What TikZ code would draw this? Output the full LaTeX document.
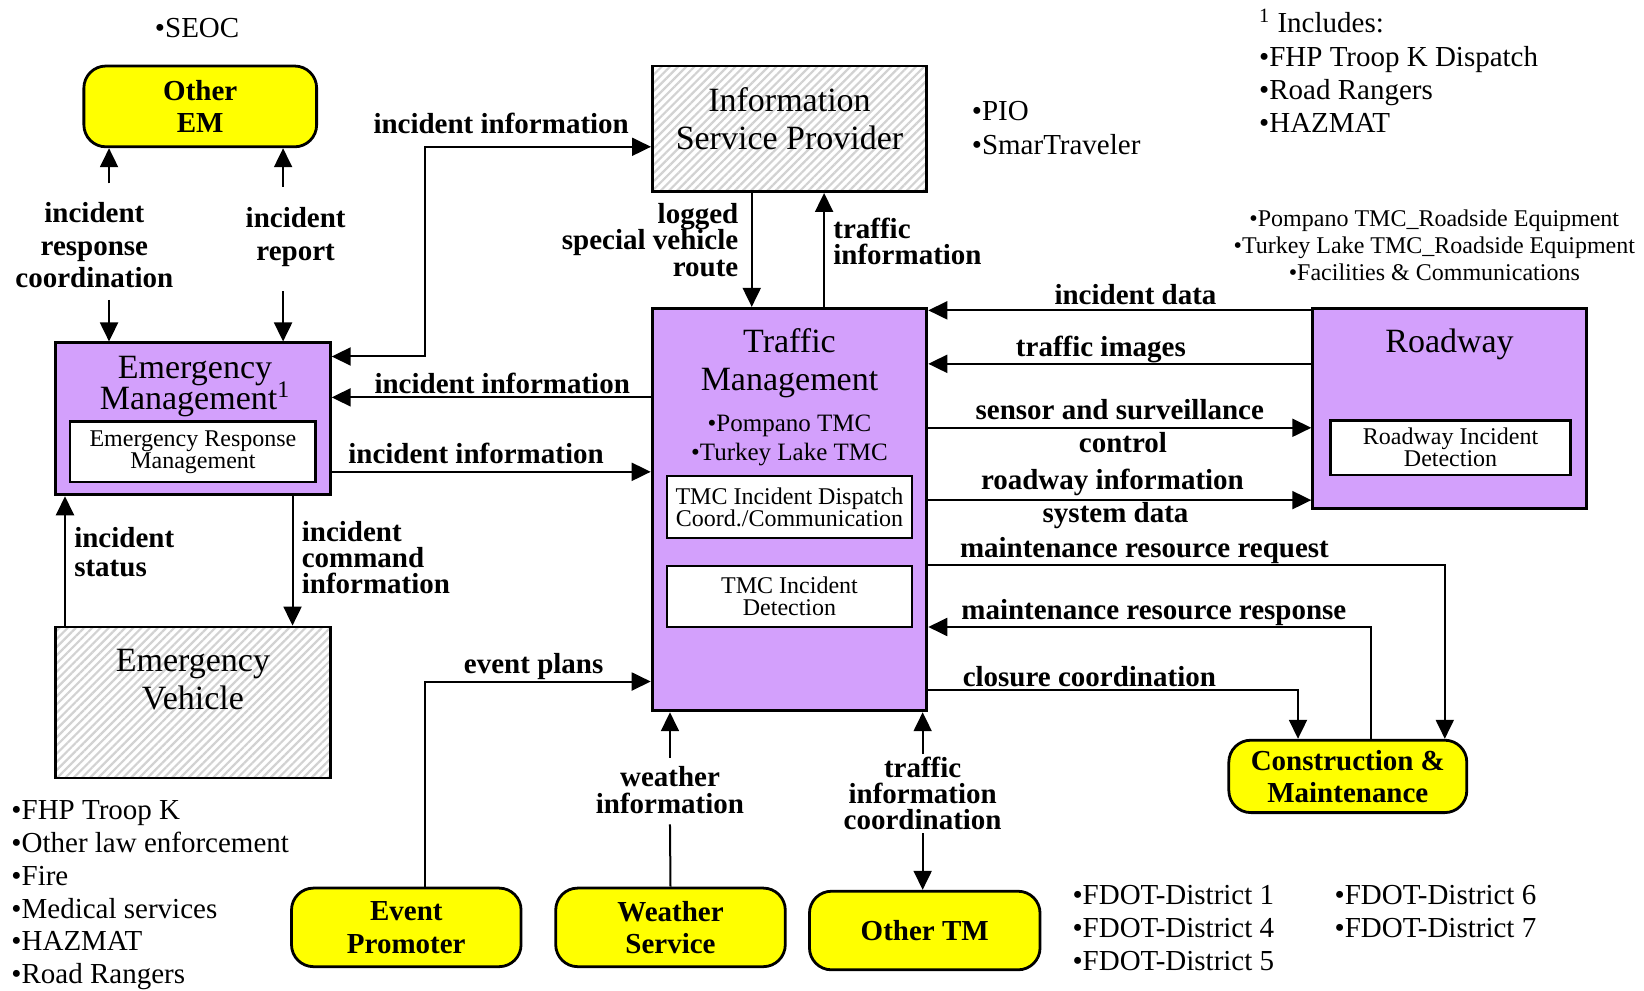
\documentclass[tikz,border=0pt]{standalone}
\usepackage{fontspec}
\setmainfont{Liberation Serif}
\usetikzlibrary{arrows.meta,patterns.meta}
\definecolor{tmpurple}{RGB}{211,160,252}
\definecolor{extyellow}{RGB}{255,255,0}
\lineskiplimit=-20pt

\begin{document}
\begin{tikzpicture}[x=0.5243pt, y=-0.5243pt, line width=1pt,
    >={Triangle[length=9.5pt,width=9pt]},
    sysbox/.style = {draw, line width=1.4pt, fill=tmpurple},
    hatchbox/.style = {draw, line width=1.4pt, pattern={Lines[angle=45,distance=2.9pt,line width=1.1pt]}, pattern color=gray!35},
    extbox/.style = {draw, line width=1.4pt, fill=extyellow, rounded corners=11pt, align=center, font=\bfseries\fontsize{14.5}{16.3}\selectfont},
    subbox/.style = {draw, line width=1.2pt, fill=white, align=center, inner sep=0pt, font=\fontsize{12}{11}\selectfont},
    boxtitle/.style = {align=center, inner sep=0pt, font=\fontsize{17}{19}\selectfont},
    flowlbl/.style = {align=center, inner sep=1pt, font=\bfseries\fontsize{14.5}{13.1}\selectfont},
    listtext/.style = {align=left, inner sep=0pt, font=\fontsize{14.5}{16.4}\selectfont}]
        \useasboundingbox (0,0) rectangle (1568,945);
        % systems
        \node[extbox, minimum width=116.4pt, minimum height=40.4pt] (oem) at (191,101.5) {Other\\EM};
        \node[sysbox, minimum width=137.4pt, minimum height=76pt] (em) at (184,399.5) {};
        \node[sysbox, minimum width=137.4pt, minimum height=201.3pt] (tm) at (753,486) {};
        \node[sysbox, minimum width=136.8pt, minimum height=100.1pt] (rw) at (1382.5,389.5) {};
        \node[hatchbox, minimum width=137.4pt, minimum height=62.9pt] (isp) at (753,123) {};
        \node[hatchbox, minimum width=137.4pt, minimum height=75.5pt] (ev) at (184,670) {};
        \node[extbox, minimum width=119pt, minimum height=36.2pt] (cm) at (1285.5,740.5) {Construction \&\\Maintenance};
        \node[extbox, minimum width=114.8pt, minimum height=39.3pt] (ep) at (387.5,884.5) {Event\\Promoter};
        \node[extbox, minimum width=114.8pt, minimum height=39.3pt] (ws) at (639.5,884.5) {Weather\\Service};
        \node[extbox, minimum width=115.3pt, minimum height=39.3pt] (otm) at (882,887.5) {Other TM};
        % titles and inner boxes
        \node[boxtitle, font=\fontsize{17}{15.5}\selectfont] (emt) at (186,369) {Emergency\\Management\textsuperscript{1}};
        \node[boxtitle] (tmt) at (753,346) {Traffic\\Management};
        \node[boxtitle] (ispt) at (753,113) {Information\\Service Provider};
        \node[boxtitle] (evt) at (184,648) {Emergency\\Vehicle};
        \node[boxtitle] (rwt) at (1382.5,328) {Roadway};
        \node[align=center, inner sep=0pt, font=\fontsize{12.5}{14.2}\selectfont] (tmcs) at (753,420) {•Pompano TMC\\•Turkey Lake TMC};
        \node[subbox, minimum width=122.7pt, minimum height=30.4pt] (erm) at (184,431) {Emergency Response\\Management};
        \node[subbox, minimum width=122.7pt, minimum height=30.9pt] (tmd) at (753,483.5) {TMC Incident Dispatch\\Coord./Communication};
        \node[subbox, minimum width=122.7pt, minimum height=30.4pt] (tmi) at (753,569) {TMC Incident\\Detection};
        \node[subbox, minimum width=120pt, minimum height=27.3pt] (rid) at (1383.5,427) {Roadway Incident\\Detection};
        % flow labels
        \node[flowlbl, font=\bfseries\fontsize{14.5}{16.3}\selectfont] (irc) at (90,234) {incident\\response\\coordination};
        \node[flowlbl, font=\bfseries\fontsize{14.5}{16.8}\selectfont] (irp) at (282,226) {incident\\report};
        \node[flowlbl] (ii1) at (478,118) {incident information};
        \node[flowlbl] (ii2) at (479,366) {incident information};
        \node[flowlbl] (ii3) at (454,432) {incident information};
        \node[flowlbl, align=left, anchor=west, font=\bfseries\fontsize{14.5}{14.2}\selectfont] (ist) at (68,526.5) {incident\\status};
        \node[flowlbl, align=left, anchor=west] (icm) at (285,532) {incident\\command\\information};
        \node[flowlbl, align=right, anchor=east] (lsv) at (707,229) {logged\\special vehicle\\route};
        \node[flowlbl, align=left, anchor=west] (tin) at (792,230.5) {traffic\\information};
        \node[flowlbl] (idt) at (1083,281) {incident data};
        \node[flowlbl] (tim) at (1050,333) {traffic images};
        \node[flowlbl] (ssa) at (1068,391) {sensor and surveillance};
        \node[flowlbl] (ssb) at (1071,422) {control};
        \node[flowlbl] (ria) at (1061,460) {roadway information};
        \node[flowlbl] (rib) at (1064,492) {system data};
        \node[flowlbl] (mrq) at (1091.5,525) {maintenance resource request};
        \node[flowlbl] (mrs) at (1100.5,584) {maintenance resource response};
        \node[flowlbl] (clc) at (1039,645) {closure coordination};
        \node[flowlbl] (evp) at (509,636) {event plans};
        \node[flowlbl] (wti) at (639,753.5) {weather\\information};
        \node[flowlbl] (tic) at (880,757) {traffic\\information\\coordination};
        % member lists
        \node[listtext] (seoc) at (188,27) {•SEOC};
        \node[listtext, anchor=west, font=\fontsize{14.5}{16.6}\selectfont] (incl) at (1200,67.5) {\textsuperscript{1} Includes:\\•FHP Troop K Dispatch\\•Road Rangers\\•HAZMAT};
        \node[listtext, anchor=west, font=\fontsize{14.5}{16.8}\selectfont] (ispl) at (926,122) {•PIO\\•SmarTraveler};
        \node[align=center, inner sep=0pt, font=\fontsize{12}{13.6}\selectfont] (rwl) at (1368,234) {•Pompano TMC\_Roadside Equipment\\•Turkey Lake TMC\_Roadside Equipment\\•Facilities \& Communications};
        \node[listtext, anchor=west] (evl) at (10,854) {•FHP Troop K\\•Other law enforcement\\•Fire\\•Medical services\\•HAZMAT\\•Road Rangers};
        \node[listtext, anchor=west] (fd1) at (1022,885) {•FDOT-District 1\\•FDOT-District 4\\•FDOT-District 5};
        \node[listtext, anchor=west] (fd2) at (1272,869.5) {•FDOT-District 6\\•FDOT-District 7};
        % flows
        \coordinate (s1) at (104,175);
        \coordinate (s2) at (104,286);
        \coordinate (s3) at (270,178);
        \coordinate (s4) at (270,278);
        \draw[->] (s1) -- (s1 |- oem.south);
        \draw[->] (s2) -- (s2 |- em.north);
        \draw[->] (s3) -- (s3 |- oem.south);
        \draw[->] (s4) -- (s4 |- em.north);
        \draw[<->] (isp.west |- 0,140) -| (405,340) -- (em.east |- 0,340);
        \draw[->] (tm.west |- 0,379) -- (em.east |- 0,379);
        \draw[->] (em.east |- 0,450) -- (tm.west |- 0,450);
        \draw[->] (ev.north -| 62,0) -- (em.south -| 62,0);
        \draw[->] (em.south -| 279,0) -- (ev.north -| 279,0);
        \draw[->] (isp.south -| 717,0) -- (tm.north -| 717,0);
        \draw[->] (tm.north -| 786,0) -- (isp.south -| 786,0);
        \draw[->] (rw.west |- 0,296) -- (tm.east |- 0,296);
        \draw[->] (rw.west |- 0,347) -- (tm.east |- 0,347);
        \draw[->] (tm.east |- 0,408) -- (rw.west |- 0,408);
        \draw[->] (tm.east |- 0,477) -- (rw.west |- 0,477);
        \draw[->] (tm.east |- 0,539) -| (cm.north -| 1378,0);
        \draw[->] (cm.north -| 1308,0) |- (tm.east |- 0,598);
        \draw[->] (tm.east |- 0,658) -| (cm.north -| 1238,0);
        \draw[->] (ep.north -| 405,0) |- (tm.west |- 0,650);
        \draw (ws.north) -- ([yshift=-4pt]wti.south);
        \draw[->] ([yshift=3pt]wti.north) -- (wti.north |- tm.south);
        \draw[->] (tic.north) -- (tic.north |- tm.south);
        \draw[->] (tic.south) -- (tic.south |- otm.north);
\end{tikzpicture}
\end{document}
